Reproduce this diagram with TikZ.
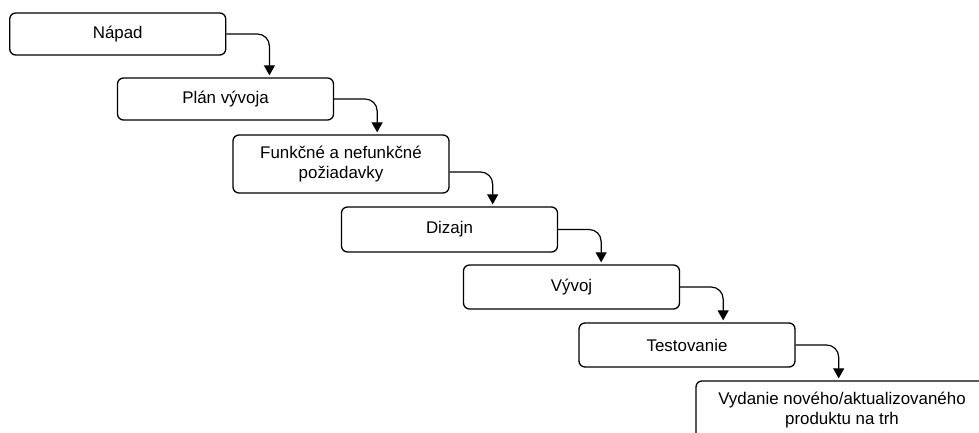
\documentclass[tikz,border=0pt]{standalone}
\usepackage{fontspec}
\setmainfont{Liberation Sans}
\usetikzlibrary{arrows.meta,calc}

\begin{document}
\begin{tikzpicture}[x=0.5pt, y=-0.5pt,
		stage/.style={draw, rounded corners=3pt, line width=0.65pt, align=center,
			inner sep=0pt, minimum width=108pt, minimum height=21pt,
			font=\fontsize{8.45}{9.6}\selectfont},
		flow/.style={line width=0.6pt, rounded corners=6pt, shorten >=1pt,
			-{Triangle[width=5.5pt,length=5pt]}}]
		\useasboundingbox (0, 0) rectangle (979, 433);
		\clip (0, 0) rectangle (979, 433);

		\node[stage] (napad) at (117.75, 34) {Nápad};
		\node[stage] (plan) at (225.5, 99) {Plán vývoja};
		\node[stage, minimum height=29pt] (poziadavky) at (341, 164) {Funkčné a nefunkčné\\požiadavky};
		\node[stage, minimum height=22.5pt] (dizajn) at (449.5, 229.5) {Dizajn};
		\node[stage, minimum height=22pt] (vyvoj) at (571.5, 287) {Vývoj};
		\node[stage, minimum height=22pt] (testovanie) at (687, 345) {Testovanie};
		\node[stage, minimum width=146pt, minimum height=29pt] (vydanie) at (842, 410) {Vydanie nového/aktualizovaného\\produktu na trh};

		\foreach \a/\b/\d in {napad/plan/0, plan/poziadavky/0, poziadavky/dizajn/8,
				dizajn/vyvoj/0, vyvoj/testovanie/0, testovanie/vydanie/0}
			\draw[flow] ($(\a.east)+(0,\d)$) -| ($(\a.east |- \b.north)+(43,0)$);
	\end{tikzpicture}
\end{document}
